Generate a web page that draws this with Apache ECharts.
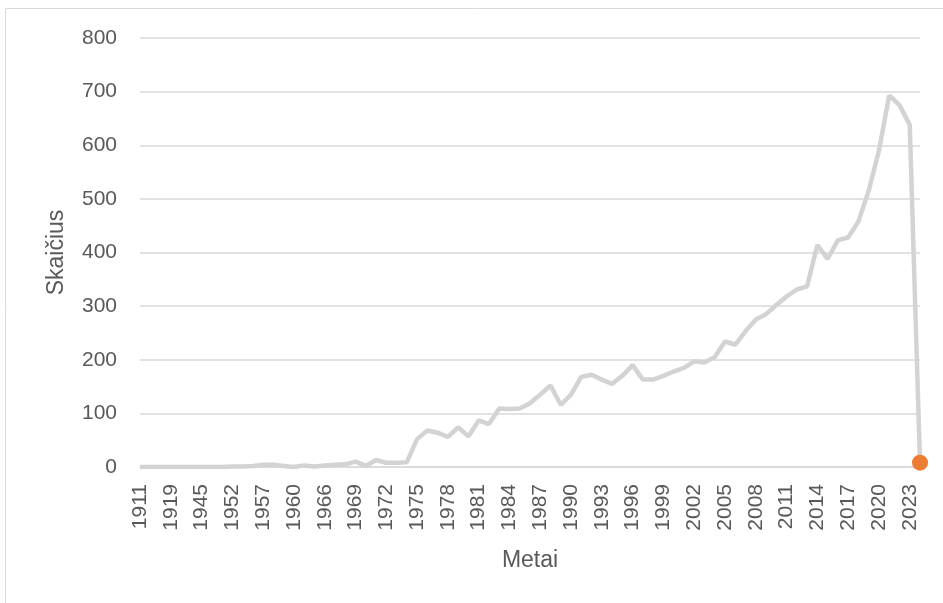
<!DOCTYPE html>
<html>
<head>
<meta charset="utf-8">
<script src="https://cdn.jsdelivr.net/npm/echarts@6/dist/echarts.min.js"></script>
<style>
html,body{margin:0;padding:0;background:#fff;}
#c{width:943px;height:603px;}
</style>
</head>
<body>
<div id="c"></div>
<script>
const years = ['1911','1913','1916','1919','1923','1937','1945','1948','1950','1952','1954','1955','1957','1958','1959','1960','1962','1964',
'1966','1967','1968','1969','1970','1971','1972','1973','1974','1975','1976','1977','1978','1979','1980','1981','1982','1983','1984','1985',
'1986','1987','1988','1989','1990','1991','1992','1993','1994','1995','1996','1997','1998','1999','2000','2001','2002','2003','2004','2005',
'2006','2007','2008','2009','2010','2011','2012','2013','2014','2015','2016','2017','2018','2019','2020','2021','2022','2023','2024'];
const counts = [0,0,0,0,0,0,0,0,0,1,1,2,4,4,2,0,3,1,
3,4,5,10,2,13,8,8,9,52,68,64,56,74,57,87,80,109,108,109,
119,135,152,116,135,168,172,163,155,170,190,163,163,170,178,185,197,195,205,234,
228,253,275,285,302,318,331,337,414,388,423,428,458,515,590,693,675,638,8];
const highlightIndex = counts.length - 1;
const yTicks = [0,100,200,300,400,500,600,700,800];
const xTitle = 'Metai';
const yTitle = 'Skaičius';

const chart = echarts.init(document.getElementById('c'), null, {renderer:'canvas'});
const txt = '#595959';
const font = 'Liberation Sans, Arial, sans-serif';
chart.setOption({
  animation:false,
  backgroundColor:'#fff',
  graphic:[{type:'rect',shape:{x:5.5,y:8.5,width:950,height:620},style:{fill:null,stroke:'#d9d9d9',lineWidth:1}}],
  grid:{left:140,right:23,top:38,bottom:136},
  xAxis:{
    type:'category',data:years,boundaryGap:false,
    name:xTitle,nameLocation:'middle',nameGap:82,
    nameTextStyle:{color:txt,fontSize:23,fontFamily:font},
    axisLine:{lineStyle:{color:'#d9d9d9',width:1.5}},
    axisTick:{show:false},
    axisLabel:{interval:2,rotate:90,margin:17,color:txt,fontSize:21,fontFamily:font}
  },
  yAxis:{
    type:'value',min:yTicks[0],max:yTicks[yTicks.length-1],interval:100,
    name:yTitle,nameLocation:'middle',nameGap:72,
    nameTextStyle:{color:txt,fontSize:23,fontFamily:font},
    axisLine:{show:false},axisTick:{show:false},
    axisLabel:{margin:23,color:txt,fontSize:21,fontFamily:font},
    splitLine:{lineStyle:{color:'#d9d9d9',width:1.5}}
  },
  series:[
    {type:'line',data:counts,symbol:'none',lineStyle:{color:'#d3d3d3',width:4.5},z:2},
    {type:'scatter',data:counts.map((v,i)=> i===highlightIndex ? [i,v] : null).filter(d=>d),symbol:'circle',symbolSize:16,
     itemStyle:{color:'#ED7D31',opacity:1},z:3}
  ]
});
</script>
</body>
</html>
